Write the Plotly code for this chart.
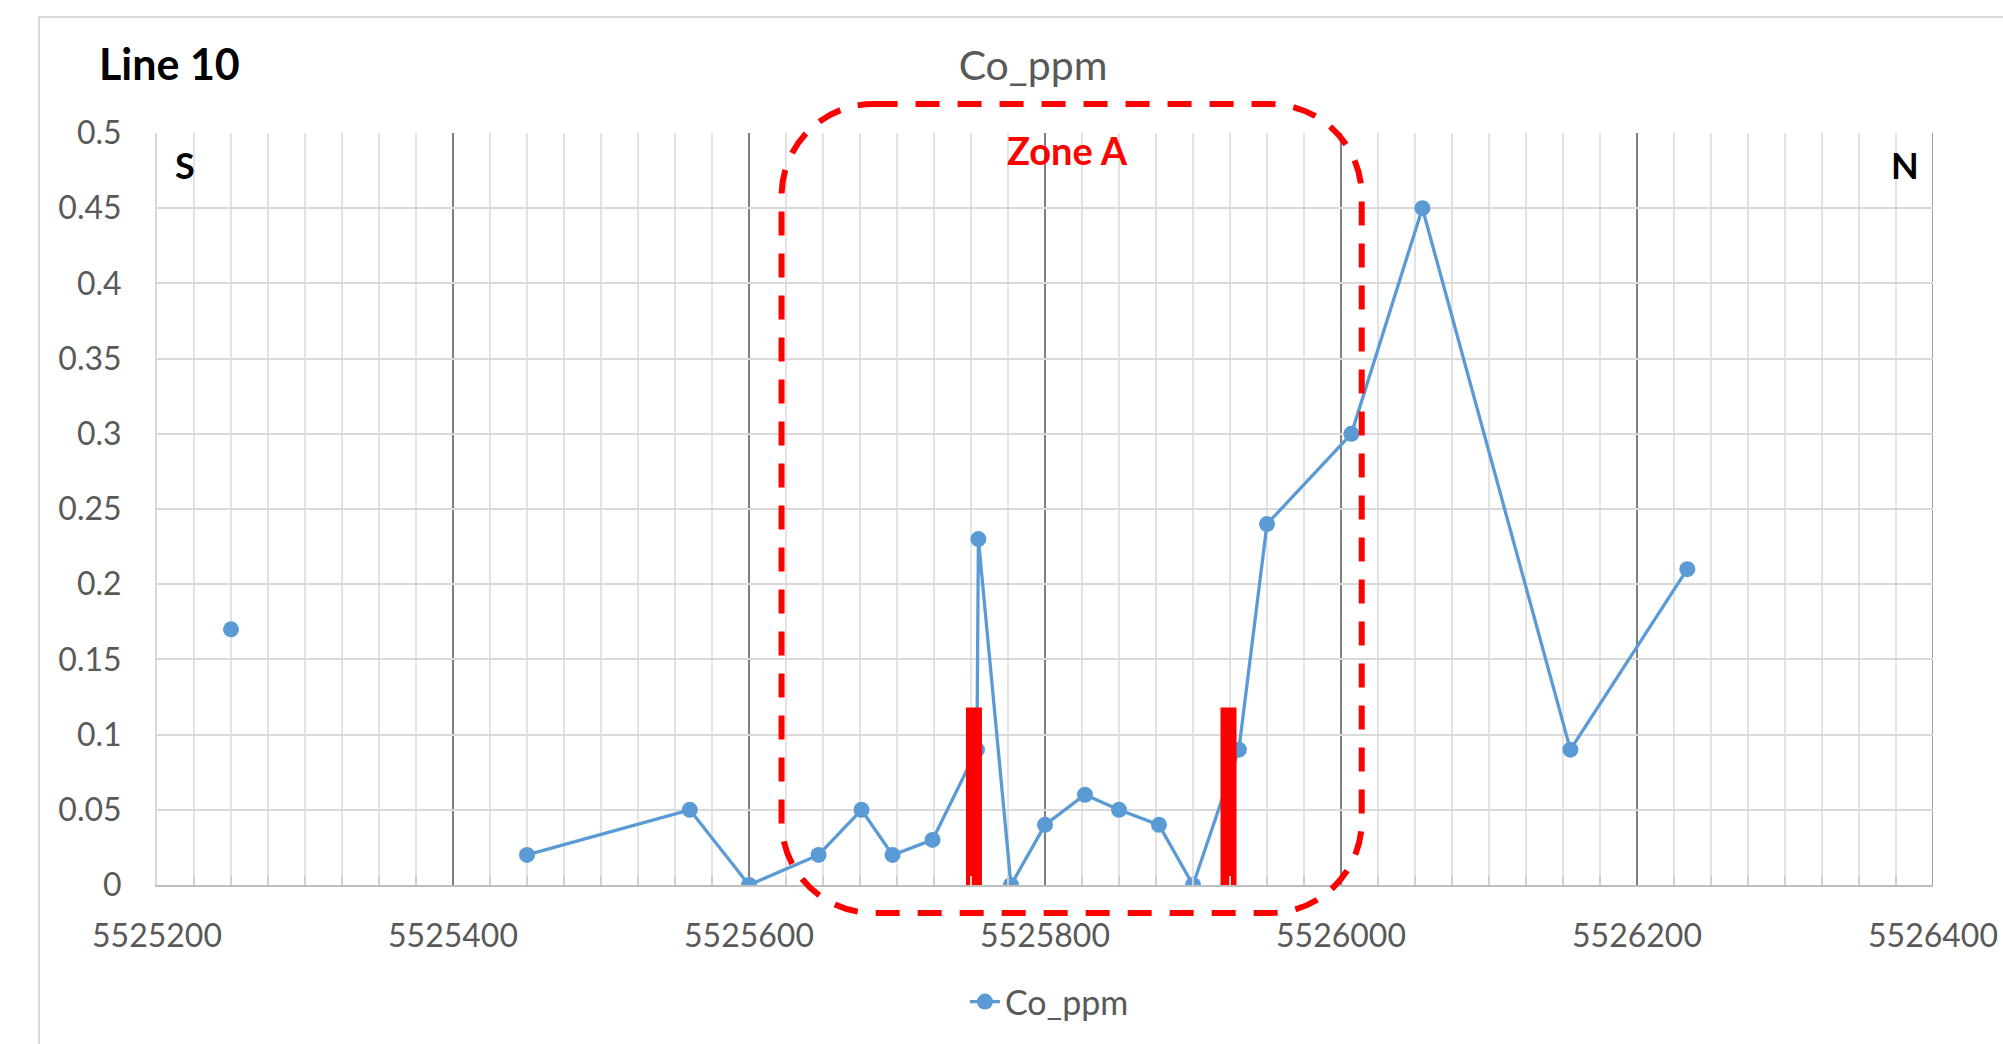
import plotly.graph_objects as go

# ---------------- data ----------------
northing = [5525250, None, 5525450, 5525560, 5525600, 5525647, 5525676, 5525697,
            5525724, 5525754, 5525755, 5525777, 5525800, 5525827, 5525850, 5525877,
            5525900, 5525931, 5525950, 5526007, 5526055, 5526155, 5526234]
co_ppm = [0.17, None, 0.02, 0.05, 0.00, 0.02, 0.05, 0.02,
          0.03, 0.09, 0.23, 0.00, 0.04, 0.06, 0.05, 0.04,
          0.00, 0.09, 0.24, 0.30, 0.45, 0.09, 0.21]

zone_marker_x = [5525752, 5525924]
zone_marker_top = 0.118
zone_marker_base = -0.004

zone_box_x = [5525622, 5526014]
zone_box_y = [-0.0186, 0.5193]

x_range = [5525200, 5526400]
y_range = [0, 0.5]

# ---------------- layout geometry ----------------
W, H = 2003, 1044
ML, MR, MT, MB = 157, 70, 133, 159
PW, PH = W - ML - MR, H - MT - MB

FONT = "Lato"
GRAY = "#595959"
BLUE = "#5B9BD5"
RED = "#FF0000"
MAJOR_GRID = "#7f7f7f"


def px(xv):
    return (xv - x_range[0]) / (x_range[1] - x_range[0])


def py(yv):
    return (yv - y_range[0]) / (y_range[1] - y_range[0])


fig = go.Figure()

fig.add_trace(go.Scatter(
    x=northing, y=co_ppm, name="Co_ppm", mode="lines+markers",
    line=dict(color=BLUE, width=3.3),
    marker=dict(color=BLUE, size=16, line=dict(width=0)),
    connectgaps=False,
))

# red zone boundary markers
zx, zy = [], []
for xb in zone_marker_x:
    zx += [xb, xb, None]
    zy += [zone_marker_base, zone_marker_top, None]
fig.add_trace(go.Scatter(
    x=zx, y=zy, mode="lines", showlegend=False, hoverinfo="skip",
    line=dict(color=RED, width=16), cliponaxis=False,
))

# rounded dashed zone box (paper coordinates)
r = 92.0
rx, ry = r / PW, r / PH
k = 0.5523
x0, x1 = px(zone_box_x[0]), px(zone_box_x[1])
y0, y1 = py(zone_box_y[0]), py(zone_box_y[1])
path = (
    f"M{x0 + rx},{y1} L{x1 - rx},{y1} "
    f"C{x1 - rx + k * rx},{y1} {x1},{y1 - ry + k * ry} {x1},{y1 - ry} "
    f"L{x1},{y0 + ry} "
    f"C{x1},{y0 + ry - k * ry} {x1 - rx + k * rx},{y0} {x1 - rx},{y0} "
    f"L{x0 + rx},{y0} "
    f"C{x0 + rx - k * rx},{y0} {x0},{y0 + ry - k * ry} {x0},{y0 + ry} "
    f"L{x0},{y1 - ry} "
    f"C{x0},{y1 - ry + k * ry} {x0 + rx - k * rx},{y1} {x0 + rx},{y1} Z"
)

shapes = [
    # chart area border (light gray), extends beyond right/bottom of the picture
    dict(type="rect", xref="paper", yref="paper",
         x0=(39 - ML) / PW, x1=(W + 20 - ML) / PW,
         y0=-(MB + 20) / PH, y1=1 + (MT - 17) / PH,
         line=dict(color="#d9d9d9", width=2), layer="below"),
    # major gridline at the right end of the axis
    dict(type="line", xref="x", yref="paper", x0=x_range[1], x1=x_range[1],
         y0=0, y1=1, line=dict(color=MAJOR_GRID, width=1.5), layer="below"),
    dict(type="path", xref="paper", yref="paper", path=path,
         line=dict(color=RED, width=6, dash="24px,18px"), layer="above"),
]

annotations = [
    dict(text="Line 10", xref="paper", yref="paper",
         x=(97 - ML) / PW, y=1 + (MT - 64) / PH, xanchor="left", yanchor="middle",
         showarrow=False, font=dict(family=FONT, size=43, color="black", weight="bold")),
    dict(text="S", xref="x", yref="y", x=5525219, y=0.479,
         xanchor="center", yanchor="middle", showarrow=False,
         font=dict(family=FONT, size=36, color="black", weight="bold")),
    dict(text="N", xref="x", yref="y", x=5526381, y=0.479,
         xanchor="center", yanchor="middle", showarrow=False,
         font=dict(family=FONT, size=36, color="black", weight="bold")),
    dict(text="Zone A", xref="x", yref="y", x=5525815, y=0.4887,
         xanchor="center", yanchor="middle", showarrow=False,
         font=dict(family=FONT, size=38, color=RED, weight="bold")),
]

fig.update_layout(
    width=W, height=H,
    margin=dict(l=ML, r=MR, t=MT, b=MB, pad=0, autoexpand=False),
    paper_bgcolor="white", plot_bgcolor="white",
    font=dict(family=FONT, color=GRAY, size=32),
    title=dict(text="Co_ppm", x=1033 / W, xref="container", xanchor="center",
               y=1 - 66 / H, yref="container", yanchor="middle",
               font=dict(family=FONT, size=41, color=GRAY)),
    showlegend=True,
    legend=dict(orientation="h", x=0.5025, y=-(1002 - 885) / PH,
                xanchor="center", yanchor="middle",
                font=dict(family=FONT, size=34, color=GRAY),
                bgcolor="rgba(0,0,0,0)"),
    shapes=shapes,
    annotations=annotations,
)

fig.update_xaxes(
    range=x_range, dtick=200, tick0=5525200, tickformat="d",
    automargin=False,
    showgrid=True, gridcolor=MAJOR_GRID, gridwidth=1.5,
    showline=True, linecolor="#bfbfbf", linewidth=2,
    zeroline=False, ticks="", ticklabelstandoff=22,
    tickfont=dict(family=FONT, size=32, color=GRAY),
    minor=dict(dtick=25, tick0=5525200, showgrid=True, gridcolor="#e3e3e3",
               gridwidth=2, ticks="inside", ticklen=9, tickcolor="#cfcfcf", tickwidth=1.5),
)
fig.update_yaxes(
    range=y_range, dtick=0.05, tick0=0,
    automargin=False,
    showgrid=True, gridcolor="#d9d9d9", gridwidth=2,
    showline=True, linecolor="#d9d9d9", linewidth=2,
    zeroline=False, ticks="", ticklabelstandoff=27,
    tickfont=dict(family=FONT, size=32, color=GRAY),
)

fig.write_html("out.html", config={"displayModeBar": False},
               post_script="document.body.style.margin='0';document.body.style.overflow='hidden';")
